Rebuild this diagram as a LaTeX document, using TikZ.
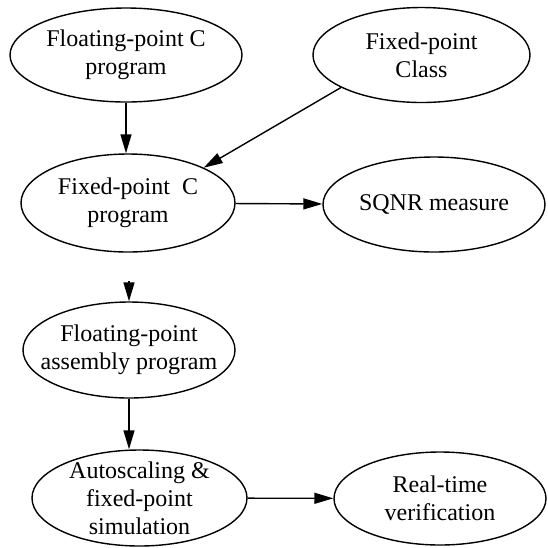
\documentclass[tikz,border=0pt]{standalone}
\usepackage{fontspec}
\setmainfont{Liberation Serif}
\usetikzlibrary{positioning,shapes.geometric,arrows.meta}

\begin{document}
\begin{tikzpicture}[>={Triangle[length=9.5pt,width=5.5pt]}, line width=0.7pt,
    stage/.style={ellipse, draw, align=center, inner sep=-12pt, font=\fontsize{12}{14}\selectfont}]
    \useasboundingbox (0,0) rectangle (274pt,-274pt);

    % Source programs
    \node[stage, minimum width=116pt, minimum height=47pt] at (63pt,-27.5pt) (flc) {Floating-point C\\program};
    \node[stage, minimum width=108.5pt, minimum height=47.5pt] at ([xshift=147.75pt]flc) (fclass) {Fixed-point\\Class};

    % Fixed-point version
    \node[stage, minimum width=107pt, minimum height=49pt] at ([xshift=1pt,yshift=-74pt]flc) (fixc) {Fixed-point\ \ C\\program};
    \node[stage, minimum width=111pt, minimum height=47.5pt] at ([xshift=153pt,yshift=-0.75pt]fixc) (sqnr) {SQNR measure};

    % Assembly level
    \node[stage, minimum width=106pt, minimum height=48pt] at ([xshift=0.5pt,yshift=-73.5pt]fixc) (asm) {Floating-point\\assembly program};
    \node[stage, minimum width=107.5pt, minimum height=48pt] at ([xshift=5.25pt,yshift=-74pt]asm) (auto) {Autoscaling \&\\fixed-point\\simulation};
    \node[stage, minimum width=106pt, minimum height=46.5pt] at ([xshift=150.25pt,yshift=-0.25pt]auto) (real) {Real-time\\verification};

    % Arrows
    \draw[->] (flc.south) -- (flc.south |- fixc.north);
    \draw[->] (fclass.202) -- (fixc.25);
    \draw[->] (fixc) -- (sqnr);
    \coordinate (stub) at ([yshift=10pt]asm.north);
    \draw[->] (stub) -- (asm.north);
    \draw[->] (asm.south) -- (asm.south |- auto.north);
    \draw[->] (auto) -- (real);
\end{tikzpicture}
\end{document}
